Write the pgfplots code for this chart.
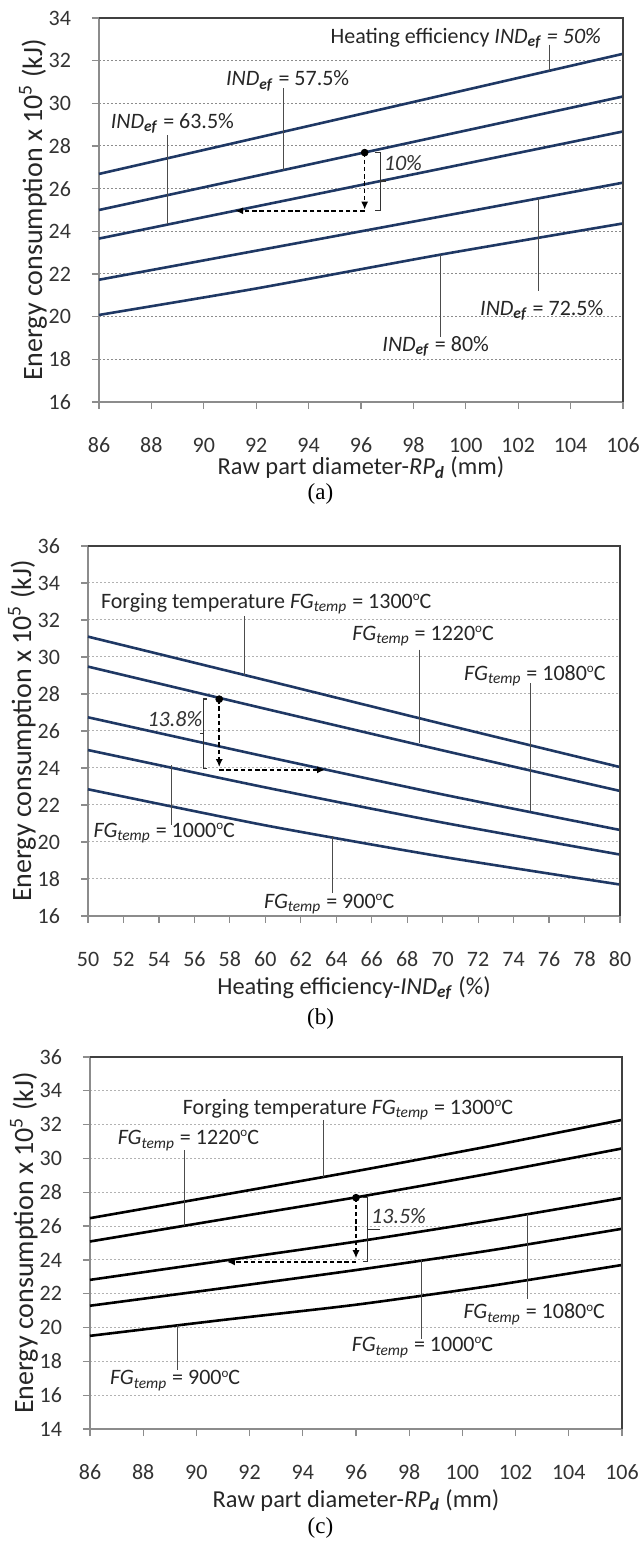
\documentclass[border=0pt]{standalone}
\usepackage{pgfplots}
\pgfplotsset{compat=1.18}
\usetikzlibrary{arrows.meta}
\usepackage{fontspec}
\setmainfont{Carlito}
\newfontfamily\timesf{Liberation Serif}
\definecolor{navy}{HTML}{1F3864}
\newcommand{\IND}{\textit{IND}\textsubscript{\textbf{\textit{ef}}}}
\newcommand{\FG}{\textit{FG}\textsubscript{\textit{temp}}}
\newcommand{\dC}{\raisebox{0.75ex}{\fontsize{6.5}{7}\selectfont o}C}
\newcommand{\af}{\fontsize{11}{12}\selectfont}
\pgfplotsset{
  panel/.style={
    scale only axis, clip=false, anchor=south west,
    axis line style={draw=black!45, line width=0.6pt},
    ymajorgrids,
    tick align=outside, major tick length=3.5pt,
    tick style={draw=black!45, line width=0.6pt},
    xtick pos=lower, ytick pos=left,
    /pgf/number format/assume math mode=true,
    ticklabel style={font=\fontsize{11}{13}\selectfont, text=black!80},
    xticklabel style={text height=7pt, text depth=0pt, yshift=-11pt},
    yticklabel style={xshift=-7pt},
    xlabel style={font=\fontsize{12.2}{14}\selectfont, anchor=center, text=black!85},
    ylabel style={font=\fontsize{14}{16}\selectfont, anchor=center, text=black!85},
  },
  crv/.style={line width=1.3pt, smooth, tension=0.4, forget plot},
  lead/.style={black!70, line width=0.45pt, forget plot},
  brk/.style={black!80, line width=0.6pt, forget plot},
  arr/.style={black, line width=0.8pt, dash pattern=on 2.2pt off 1.4pt, -{Latex[length=4pt,width=3.6pt]}, forget plot},
  dot/.style={only marks, mark=*, mark size=1.7pt, black, forget plot},
}
\begin{document}
\begin{tikzpicture}
\path[use as bounding box] (0pt,0pt) rectangle (320.5pt,774pt);
% ---------------- (a)
\begin{axis}[panel, at={(49.5pt,573pt)}, width=262pt, height=192pt,
  xmin=86, xmax=106, ymin=16, ymax=34,
  xtick={86,88,...,106}, ytick={16,18,...,34},
  grid style={draw=black!45, dash pattern=on 1.2pt off 0.8pt, line width=0.5pt},
  xlabel={Raw part diameter-\textit{RP}\textsubscript{\textbf{\textit{d}}} (mm)},
  ylabel={Energy consumption x 10\textsuperscript{5} (kJ)},
  xlabel style={at={(axis description cs:0.5,-0.172)}},
  ylabel style={at={(axis description cs:-0.126,0.5)}},
]
\addplot[crv, navy] coordinates {(86,26.69) (96,29.50) (106,32.32)};
\addplot[crv, navy] coordinates {(86,25.00) (96,27.66) (106,30.32)};
\addplot[crv, navy] coordinates {(86,23.66) (96,26.17) (106,28.68)};
\addplot[crv, navy] coordinates {(86,21.73) (96,24.00) (106,26.28)};
\addplot[crv, navy] coordinates {(86,20.08) (92,21.32) (99,22.90) (106,24.37)};
% leaders
\addplot[lead] coordinates {(103.2,32.75) (103.2,31.53)};
\addplot[lead] coordinates {(93.05,30.70) (93.05,26.88)};
\addplot[lead] coordinates {(88.63,28.50) (88.63,24.32)};
\addplot[lead] coordinates {(102.76,25.54) (102.76,21.19)};
\addplot[lead] coordinates {(99.03,22.88) (99.03,19.04)};
% arrows
\addplot[arr] coordinates {(96.14,27.69) (96.14,25.02)};
\addplot[arr] coordinates {(96.14,24.96) (91.2,24.96)};
\addplot[dot] coordinates {(96.14,27.69)};
\addplot[brk] coordinates {(96.53,27.69) (96.73,27.69) (96.73,24.98) (96.53,24.98)};
\addplot[brk] coordinates {(96.73,26.36) (96.95,26.36)};
\node[font=\af\itshape, text=black!80] at (97.6,27.2) {10\%};
\node[font=\af, text=black!85] at (100.0,33.06) {Heating efficiency \textit{IND}\textsubscript{\textbf{\textit{ef}}} \textit{= 50\%}};
\node[font=\af, text=black!85] at (93.2,31.05) {\IND{} = 57.5\%};
\node[font=\af, text=black!85] at (88.8,29.07) {\IND{} = 63.5\%};
\node[font=\af, text=black!85] at (102.9,20.28) {\IND{} = 72.5\%};
\node[font=\af, text=black!85] at (98.85,18.6) {\IND{} = 80\%};
\draw[black!75, line width=0.8pt] (rel axis cs:0,1) -- (rel axis cs:1,1) -- (rel axis cs:1,0);
\end{axis}
% ---------------- (b)
\begin{axis}[panel, at={(44pt,316pt)}, width=266pt, height=185pt,
  xmin=50, xmax=80, ymin=16, ymax=36,
  xtick={50,52,...,80}, ytick={16,18,...,36},
  grid style={draw=black!30, dash pattern=on 1.2pt off 0.8pt, line width=0.5pt},
  xlabel={Heating efficiency-\IND{} (\%)},
  ylabel={Energy consumption x 10\textsuperscript{5} (kJ)},
  xlabel style={at={(axis description cs:0.5,-0.195)}},
  ylabel style={at={(axis description cs:-0.124,0.5)}},
]
\addplot[crv, navy] coordinates {(50,31.10) (60,28.75) (70,26.38) (80,24.05)};
\addplot[crv, navy] coordinates {(50,29.48) (60,27.20) (70,24.95) (80,22.76)};
\addplot[crv, navy] coordinates {(50,26.74) (60,24.62) (70,22.57) (80,20.65)};
\addplot[crv, navy] coordinates {(50,24.97) (60,22.95) (70,21.05) (80,19.32)};
\addplot[crv, navy] coordinates {(50,22.85) (60,20.90) (70,19.20) (80,17.70)};
% leaders
\addplot[lead] coordinates {(58.85,32.22) (58.85,29.02)};
\addplot[lead] coordinates {(68.7,30.40) (68.7,25.33)};
\addplot[lead] coordinates {(74.93,28.58) (74.93,21.68)};
\addplot[lead] coordinates {(54.71,24.14) (54.71,20.92)};
\addplot[lead] coordinates {(63.76,20.30) (63.76,17.26)};
% arrows
\addplot[arr] coordinates {(57.4,27.72) (57.4,24.05)};
\addplot[arr] coordinates {(57.4,23.9) (63.37,23.9)};
\addplot[dot] coordinates {(57.4,27.72)};
\addplot[brk] coordinates {(56.70,27.73) (56.52,27.73) (56.52,23.98) (56.70,23.98)};
\addplot[brk] coordinates {(56.52,25.86) (56.30,25.86)};
\node[font=\af\itshape, text=black!80] at (54.9,26.65) {13.8\%};
\node[font=\af, text=black!85] at (60.05,32.9) {Forging temperature \FG{} = 1300\dC};
\node[font=\af, text=black!85] at (68.9,31.13) {\FG{} = 1220\dC};
\node[font=\af, text=black!85] at (75.2,28.97) {\FG{} = 1080\dC};
\node[font=\af, text=black!85] at (54.3,20.47) {\FG{} = 1000\dC};
\node[font=\af, text=black!85] at (63.6,16.63) {\FG{} = 900\dC};
\draw[black!75, line width=0.8pt] (rel axis cs:0,1) -- (rel axis cs:1,1) -- (rel axis cs:1,0);
\end{axis}
% ---------------- (c)
\begin{axis}[panel, at={(45pt,59.5pt)}, width=266pt, height=186pt,
  xmin=86, xmax=106, ymin=14, ymax=36,
  xtick={86,88,...,106}, ytick={14,16,...,36},
  grid style={draw=black!30, dash pattern=on 1.2pt off 0.8pt, line width=0.5pt},
  xlabel={Raw part diameter-\textit{RP}\textsubscript{\textbf{\textit{d}}} (mm)},
  ylabel={Energy consumption x 10\textsuperscript{5} (kJ)},
  xlabel style={at={(axis description cs:0.5,-0.191)}},
  ylabel style={at={(axis description cs:-0.124,0.5)}},
]
\addplot[crv, black] coordinates {(86,26.47) (91,27.85) (96,29.25) (101,30.72) (106,32.28)};
\addplot[crv, black] coordinates {(86,25.09) (91,26.40) (96,27.70) (101,29.10) (106,30.59)};
\addplot[crv, black] coordinates {(86,22.82) (91,23.95) (96,25.08) (101,26.32) (106,27.66)};
\addplot[crv, black] coordinates {(86,21.29) (91,22.33) (96,23.40) (101,24.55) (106,25.84)};
\addplot[crv, black] coordinates {(86,19.51) (91,20.45) (96,21.35) (101,22.45) (106,23.70)};
% leaders
\addplot[lead] coordinates {(94.77,32.27) (94.77,28.90)};
\addplot[lead] coordinates {(89.54,30.50) (89.54,26.02)};
\addplot[lead] coordinates {(102.44,26.71) (102.44,21.67)};
\addplot[lead] coordinates {(98.46,23.97) (98.46,19.30)};
\addplot[lead] coordinates {(89.28,20.13) (89.28,17.50)};
% arrows
\addplot[arr] coordinates {(96.0,27.68) (96.0,24.1)};
\addplot[arr] coordinates {(96.0,23.88) (91.15,23.88)};
\addplot[dot] coordinates {(96.0,27.68)};
\addplot[brk] coordinates {(96.26,27.7) (96.43,27.7) (96.43,23.9) (96.26,23.9)};
\addplot[brk] coordinates {(96.43,25.78) (96.9,25.78)};
\node[font=\af\itshape, text=black!80] at (97.6,26.57) {13.5\%};
\node[font=\af, text=black!85] at (95.7,32.9) {Forging temperature \FG{} = 1300\dC};
\node[font=\af, text=black!85] at (89.7,31.06) {\FG{} = 1220\dC};
\node[font=\af, text=black!85] at (102.7,20.78) {\FG{} = 1080\dC};
\node[font=\af, text=black!85] at (98.5,18.82) {\FG{} = 1000\dC};
\node[font=\af, text=black!85] at (89.2,16.86) {\FG{} = 900\dC};
\draw[black!75, line width=0.8pt] (rel axis cs:0,1) -- (rel axis cs:1,1) -- (rel axis cs:1,0);
\end{axis}
\node[font=\timesf\fontsize{11.5}{13}\selectfont] at (160.25pt,527pt) {(a)};
\node[font=\timesf\fontsize{11.5}{13}\selectfont] at (160.25pt,264.5pt) {(b)};
\node[font=\timesf\fontsize{11.5}{13}\selectfont] at (160.25pt,10pt) {(c)};
\end{tikzpicture}
\end{document}
